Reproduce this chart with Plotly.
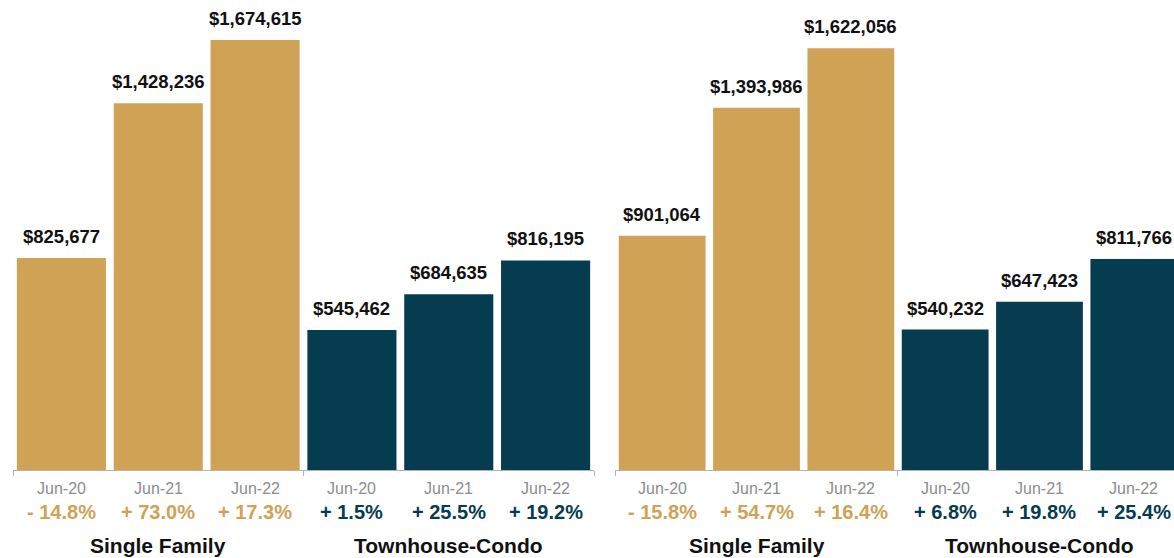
import plotly.graph_objects as go

# Median sales price, two market areas, June of each year
periods = ["Jun-20", "Jun-21", "Jun-22"]
groups = ["Single Family", "Townhouse-Condo"]

left_single_family = [825677, 1428236, 1674615]
left_townhouse = [545462, 684635, 816195]
left_change_sf = ["- 14.8%", "+ 73.0%", "+ 17.3%"]
left_change_tc = ["+ 1.5%", "+ 25.5%", "+ 19.2%"]

right_single_family = [901064, 1393986, 1622056]
right_townhouse = [540232, 647423, 811766]
right_change_sf = ["- 15.8%", "+ 54.7%", "+ 16.4%"]
right_change_tc = ["+ 6.8%", "+ 19.8%", "+ 25.4%"]

GOLD = "#CFA256"
TEAL = "#053C50"
FONT = "Liberation Sans"

fig = go.Figure()
annotations = []

panels = [
    ("x", "y", left_single_family, left_townhouse, left_change_sf, left_change_tc),
    ("x2", "y2", right_single_family, right_townhouse, right_change_sf, right_change_tc),
]

for xref, yref, sf, tc, ch_sf, ch_tc in panels:
    values = sf + tc
    colors = [GOLD] * len(sf) + [TEAL] * len(tc)
    changes = ch_sf + ch_tc
    positions = list(range(len(values)))
    fig.add_trace(go.Bar(
        x=positions, y=values, marker_color=colors, marker_line_width=0,
        xaxis=xref, yaxis=yref, showlegend=False, hoverinfo="skip",
    ))
    for i, v in enumerate(values):
        annotations.append(dict(
            x=i, y=v, xref=xref, yref=yref, text=f"${v:,}", showarrow=False,
            yanchor="bottom", yshift=9,
            font=dict(family=FONT, size=18.5, color="#111111", weight="bold"),
        ))
        annotations.append(dict(
            x=i, y=0, xref=xref, yref="paper", text=(periods * 2)[i], showarrow=False,
            yanchor="middle", yshift=-18,
            font=dict(family=FONT, size=16, color="#8c8c8c"),
        ))
        annotations.append(dict(
            x=i, y=0, xref=xref, yref="paper", text=changes[i], showarrow=False,
            yanchor="middle", yshift=-42,
            font=dict(family=FONT, size=20, color=colors[i], weight="bold"),
        ))
    for g, name in enumerate(groups):
        annotations.append(dict(
            x=1 + 3 * g, y=0, xref=xref, yref="paper", text=name, showarrow=False,
            yanchor="middle", yshift=-75,
            font=dict(family=FONT, size=21, color="#111111", weight="bold"),
        ))

xaxis_common = dict(
    showgrid=False, zeroline=False, showline=True, linecolor="#b3b3b3", linewidth=1,
    ticks="outside", ticklen=5, tickcolor="#b3b3b3", tickvals=[-0.5, 2.5, 5.5],
    ticktext=["", "", ""], fixedrange=True,
)
yaxis_common = dict(visible=False, showgrid=False, zeroline=False, fixedrange=True)

fig.update_layout(
    width=1174, height=558,
    margin=dict(l=0, r=0, t=0, b=88),
    paper_bgcolor="white", plot_bgcolor="white",
    bargap=0.08,
    xaxis=dict(domain=[13 / 1174, 594 / 1174], range=[-0.5, 5.5], anchor="y", **xaxis_common),
    xaxis2=dict(domain=[615 / 1174, 1.0], range=[-0.5, 5.426], anchor="y2", **xaxis_common),
    yaxis=dict(range=[0, 1830500], anchor="x", **yaxis_common),
    yaxis2=dict(range=[0, 1808000], anchor="x2", **yaxis_common),
    annotations=annotations,
)

fig.write_html("out.html")
